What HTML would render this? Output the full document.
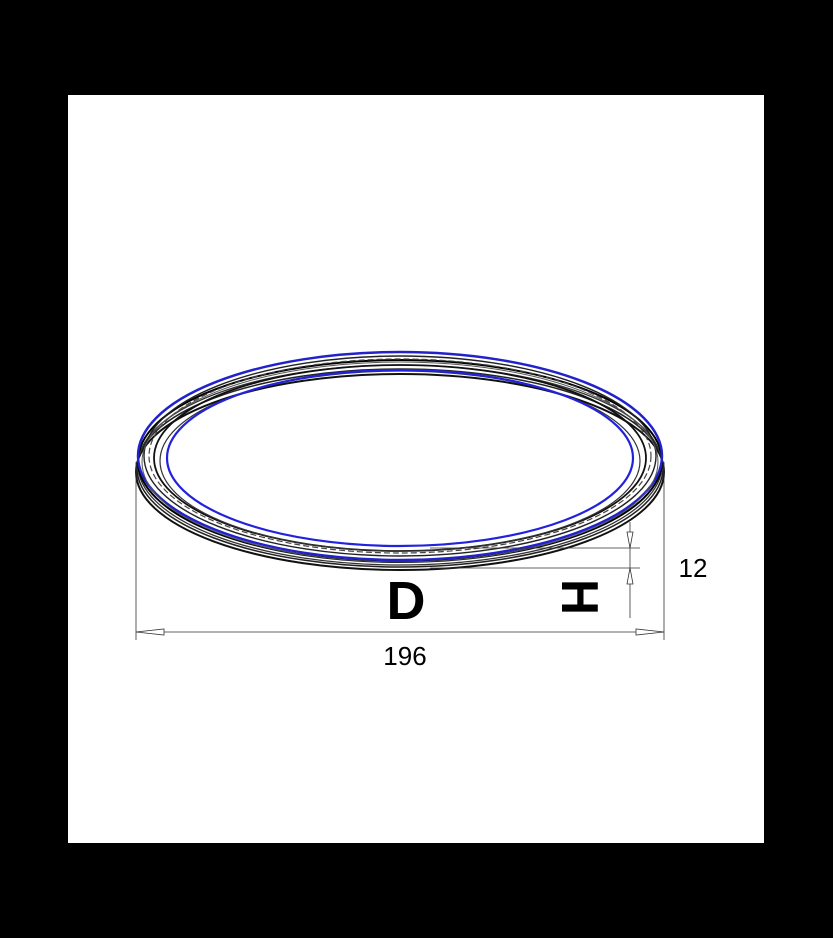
<!DOCTYPE html>
<html><head><meta charset="utf-8"><style>
html,body{margin:0;padding:0;background:#000;}
svg{display:block;}
</style></head><body>
<svg width="833" height="938" viewBox="0 0 833 938">
<rect x="0" y="0" width="833" height="938" fill="#000"/>
<rect x="68" y="95" width="696" height="748" fill="#fff"/>
<g fill="none">
  <ellipse cx="400" cy="472" rx="264" ry="98" stroke="#111" stroke-width="2"/>
  <ellipse cx="400" cy="468" rx="263" ry="99" stroke="#222" stroke-width="1.5"/>
  <ellipse cx="400" cy="465" rx="262" ry="100" stroke="#333" stroke-width="1.3"/>
  <ellipse cx="400" cy="461" rx="262" ry="101" stroke="#000" stroke-width="2"/>
  <ellipse cx="400" cy="456" rx="262" ry="104" stroke="#2222cc" stroke-width="2.5"/>
  <ellipse cx="400" cy="456" rx="256" ry="100" stroke="#222" stroke-width="1.4"/>
  <ellipse cx="400" cy="456" rx="251" ry="97" stroke="#444" stroke-width="1.2" stroke-dasharray="6 3"/>
  <ellipse cx="400" cy="458" rx="246" ry="93" stroke="#111" stroke-width="1.8"/>
  <ellipse cx="400" cy="461" rx="240" ry="90" stroke="#333" stroke-width="1.2"/>
  <ellipse cx="400" cy="458" rx="233" ry="88" stroke="#2222dd" stroke-width="2.2"/>
  <ellipse cx="400" cy="462" rx="258" ry="100" stroke="#555" stroke-width="1"/>
</g>
<g stroke="#333" stroke-width="0.8" fill="none">
  <line x1="136" y1="462" x2="136" y2="640"/>
  <line x1="664" y1="462" x2="664" y2="640"/>
  <line x1="136" y1="632" x2="664" y2="632"/>
  <path d="M136 632 L164 629 L164 635 Z" fill="#fff"/>
  <path d="M664 632 L636 629 L636 635 Z" fill="#fff"/>
  <line x1="430" y1="548" x2="640" y2="548"/>
  <line x1="430" y1="568" x2="640" y2="568"/>
  <line x1="630" y1="522" x2="630" y2="618"/>
  <path d="M630 548 L627 532 L633 532 Z" fill="#fff"/>
  <path d="M630 568 L627 584 L633 584 Z" fill="#fff"/>
</g>
<text x="405" y="665" font-family="Liberation Sans, sans-serif" font-size="26" text-anchor="middle" fill="#000">196</text>
<text x="693" y="577" font-family="Liberation Sans, sans-serif" font-size="26" text-anchor="middle" fill="#000">12</text>
<text x="406" y="619" font-family="Liberation Sans, sans-serif" font-size="54" font-weight="bold" text-anchor="middle" fill="#000">D</text>
<text x="0" y="0" transform="translate(562 597) rotate(90)" font-family="Liberation Sans, sans-serif" font-size="52" font-weight="bold" text-anchor="middle" fill="#000" textLength="36" lengthAdjust="spacingAndGlyphs">H</text>
</svg>
</body></html>
